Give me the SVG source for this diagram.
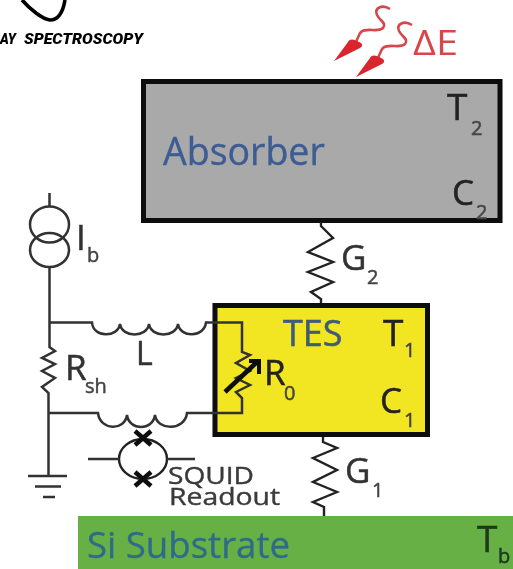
<svg xmlns="http://www.w3.org/2000/svg" width="513" height="569" viewBox="0 0 513 569">
  <defs>
    <filter id="soft" x="-5%" y="-5%" width="110%" height="110%"><feGaussianBlur stdDeviation="0.5"/></filter>
  </defs>
  <style>
    text { font-family: "Open Sans", "Liberation Sans", sans-serif; }
    .lab { font-size: 35px; fill: #333; stroke: #333; stroke-width: 0.5; }
    .sub { font-size: 20px; fill: #444; stroke: #444; stroke-width: 0.5; }
    .dk { fill: #222; stroke: #222; }
    .blue { fill: #3c5c94; stroke: #3c5c94; stroke-width: 0.4; }
    .wire { fill: none; stroke: #333; stroke-width: 2.5; }
    .thin { fill: none; stroke: #222; stroke-width: 2.4; }
    .cross { fill: none; stroke: #111; stroke-width: 4.5; }
    .wave { fill: none; stroke: #d8454c; stroke-width: 2.6; }
    .head { fill: #d9282e; }
  </style>
  <rect width="513" height="569" fill="#ffffff"/>
  <g filter="url(#soft)">
    <g id="title">
      <path d="M22 0C30 9 42 19 50 20C58 20 63 12 65 0" fill="none" stroke="#000" stroke-width="3.6"/>
      <text x="0" y="44" font-size="15" font-weight="900" font-style="italic" style="font-family:'Roboto','Liberation Sans',sans-serif" fill="#000" textLength="16" lengthAdjust="spacingAndGlyphs">AY</text>
      <text x="24" y="44" font-size="15" font-weight="900" font-style="italic" style="font-family:'Roboto','Liberation Sans',sans-serif" fill="#000" textLength="119" lengthAdjust="spacingAndGlyphs">SPECTROSCOPY</text>
    </g>
    <g id="substrate">
      <rect x="78" y="516" width="435" height="53" fill="#66b044"/>
      <text x="87" y="558" font-size="36.6" fill="#2f6a8c" stroke="#2f6a8c" stroke-width="0.3">Si Substrate</text>
      <text x="477" y="552" font-size="37" fill="#1e3a1c" stroke="#1e3a1c" stroke-width="0.5">T</text>
      <text x="498" y="563" class="sub" style="fill:#1e3a1c;stroke:#1e3a1c">b</text>
    </g>
    <g id="absorber">
      <rect x="143.5" y="81.5" width="356.5" height="139" fill="#a9a9a9" stroke="#0c0c0c" stroke-width="5"/>
      <text x="163" y="165" font-size="37.5" class="blue">Absorber</text>
      <text x="447" y="120" class="lab dk" style="font-size:37px">T</text>
      <text x="471" y="135" class="sub">2</text>
      <text x="452" y="205" class="lab dk">C</text>
      <text x="476" y="219" class="sub">2</text>
    </g>
    <g id="tes">
      <rect x="215" y="305.5" width="212.5" height="129" fill="#f2e620" stroke="#0c0c0c" stroke-width="5"/>
      <text x="283" y="346" class="lab" style="font-size:36px;fill:#3c5c7c;stroke:#3c5c7c">TES</text>
      <text x="383" y="346" class="lab dk" style="font-size:37px">T</text>
      <text x="404" y="357" class="sub">1</text>
      <text x="380" y="413" class="lab dk">C</text>
      <text x="404" y="427" class="sub">1</text>
      <text x="264" y="385" class="lab dk">R</text>
      <text x="284" y="400" class="sub">0</text>
    </g>
    <g id="bias-source">
      <ellipse cx="49.5" cy="224.5" rx="19.5" ry="18" fill="none" stroke="#333" stroke-width="2.5"/>
      <ellipse cx="49.5" cy="250" rx="19.5" ry="17" fill="none" stroke="#333" stroke-width="2.5"/>
      <text x="76" y="250" class="lab">I</text>
      <text x="87" y="262" class="sub">b</text>
    </g>
    <g id="shunt-labels">
      <text x="65" y="380" class="lab">R</text>
      <text x="85" y="393" class="sub">sh</text>
      <text x="136" y="365" font-size="32" fill="#333" stroke="#333" stroke-width="0.5">L</text>
    </g>
    <g id="squid">
      <ellipse cx="143" cy="459" rx="24" ry="20" fill="none" stroke="#222" stroke-width="2.4"/>
      <path class="cross" d="M135 431L151 445M151 431L135 445M135 472L151 486M151 472L135 486"/>
      <text x="168" y="484" font-size="24" fill="#3a3a3a" stroke="#3a3a3a" stroke-width="0.4" textLength="86" lengthAdjust="spacingAndGlyphs">SQUID</text>
      <text x="169" y="505" font-size="24" fill="#3a3a3a" stroke="#3a3a3a" stroke-width="0.4" textLength="111" lengthAdjust="spacingAndGlyphs">Readout</text>
    </g>
    <g id="energy">
      <path class="wave" d="M390 9C382 4 374 8 377 15C380 21 387 23 383 28C378 33 367 27 361 32C357 36 359 40 354 43"/>
      <path class="head" d="M334 61L348 42C350 38 354 39 361 43C363 45 362 47 360 48Z"/>
      <path class="wave" d="M412 25C404 20 396 24 399 31C402 37 409 39 405 44C400 49 389 43 383 48C379 52 381 56 376 59"/>
      <path class="head" d="M356 77L370 58C372 54 376 55 383 59C385 61 384 63 382 64Z"/>
      <text x="413" y="55" font-size="34" fill="#d8454c" textLength="45" lengthAdjust="spacingAndGlyphs">ΔE</text>
    </g>
    <g id="connectors">
      <path class="wire" d="M49.5 193V206M49.5 267V347L55 351L42 358L55 364L42 371L55 378L42 387L48.5 393V476"/>
      <path class="wire" d="M28 476H67M35 486.5H61M43 497H55"/>
      <path class="wire" d="M49 322.5H92C93 338 118 338 120 324C122 338 147 338 149 324C151 338 176 338 178 324C180 338 204 338 206 322.5H242V352L250 355L236 363L250 371L236 378L250 385L236 392L242 398V413H187C185 431 157 431 155 415C153 431 129 431 127 415C125 431 100 431 98 413H49"/>
      <path class="wire" d="M88 459H119M167 459H195"/>
      <path d="M225 392L257 362" fill="none" stroke="#111" stroke-width="4.6"/>
      <path d="M249 361H259V374" fill="none" stroke="#111" stroke-width="4"/>
      <path class="thin" d="M321 222V226L333 238L308 252L333 262L308 272L333 282L311 292L321 299V303"/>
      <path class="thin" d="M323 437V442L337 448L313 458L337 470L313 482L337 492L313 502L324 507V516"/>
    </g>
    <g id="thermal-labels">
      <text x="341" y="270" class="lab">G</text>
      <text x="367" y="284" class="sub">2</text>
      <text x="345" y="483" class="lab">G</text>
      <text x="372" y="497" class="sub">1</text>
    </g>
  </g>
</svg>
